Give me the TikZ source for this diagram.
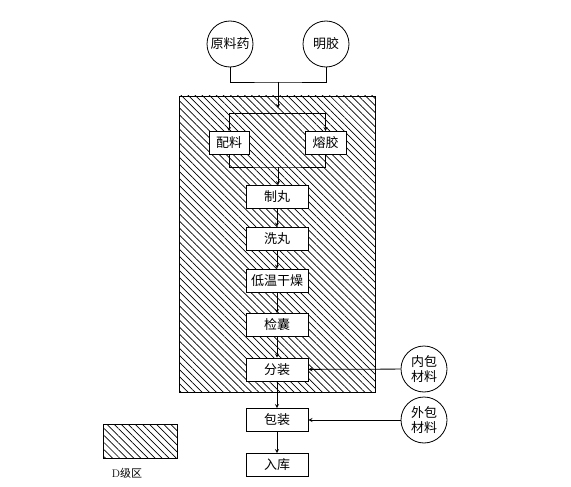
\documentclass[tikz,border=0pt]{standalone}
\usepackage{fontspec}
\newfontfamily\cjk{Noto Sans CJK SC}
\usepackage{tikz}
\usetikzlibrary{positioning,arrows,calc}
\usetikzlibrary{patterns.meta}

\tikzset{
  stepbox/.style={draw, fill=white, thick, minimum width=62pt, minimum height=23pt, inner sep=0pt, font=\cjk\fontsize{13}{14}\selectfont},
  matcircle/.style={draw, fill=white, thick, circle, minimum size=46pt, inner sep=0pt, font=\cjk\fontsize{13}{15}\selectfont, align=center},
  hatch/.style={pattern={Lines[angle=-45, distance=5pt, line width=0.7pt]}, draw, thin},
  flow/.style={-stealth, thick}
}

\begin{document}
\begin{tikzpicture}[x=1pt, y=-1pt]
		\useasboundingbox (0,0) rectangle (571,487);
		% D-class area
		\filldraw[hatch] (179, 96) rectangle (375, 392);
		\filldraw[hatch] (103, 424) rectangle (177, 458);
		\node (legend) at (127, 473) {\fontsize{11}{12}\selectfont D\cjk 级区};
		% raw materials
		\node [matcircle] (yuanliao) at (230, 44) {原料药};
		\node [matcircle] (mingjiao) at (326, 44) {明胶};
		\node [matcircle] (neibao) at (424, 369) {内包\\材料};
		\node [matcircle] (waibao) at (424, 420) {外包\\材料};
		% process steps
		\node [stepbox, minimum width=40pt] (peiliao) at (229, 143) {配料};
		\node [stepbox, minimum width=41pt] (rongjiao) at (325.5, 143) {熔胶};
		\node [stepbox] (zhiwan) at (277, 197) {制丸};
		\node [stepbox] (xiwan) at (277, 238.5) {洗丸};
		\node [stepbox] (ganzao) at (277, 280.5) {低温干燥};
		\node [stepbox] (jiannang) at (277, 325) {检囊};
		\node [stepbox] (fenzhuang) at (277, 369.5) {分装};
		\node [stepbox] (baozhuang) at (277, 420) {包装};
		\node [stepbox] (ruku) at (277, 465) {入库};
		% merge and split
		\coordinate (join) at (278, 82);
		\coordinate (split) at (278, 113);
		\coordinate (merge) at (278, 167);
		\draw [thick] (yuanliao.south) |- (join) -| (mingjiao.south);
		\draw [flow] (join) -- (278, 108);
		\draw [thick] (split -| peiliao) -- (split -| rongjiao);
		\draw [flow] (split -| peiliao) -- (peiliao.north);
		\draw [flow] (split -| rongjiao) -- (rongjiao.north);
		\draw [thick] (peiliao.south) |- (merge) -| (rongjiao.south);
		\draw [flow] (merge) -- (zhiwan.north -| merge);
		\draw [flow] (zhiwan) -- (xiwan);
		\draw [flow] (xiwan) -- (ganzao);
		\draw [flow] (ganzao) -- (jiannang);
		\draw [flow] (jiannang) -- (fenzhuang);
		\draw [flow] (fenzhuang) -- (baozhuang);
		\draw [flow] (baozhuang) -- (ruku);
		\draw [flow] (neibao) -- (fenzhuang);
		\draw [flow] (waibao) -- (baozhuang);
\end{tikzpicture}
\end{document}
